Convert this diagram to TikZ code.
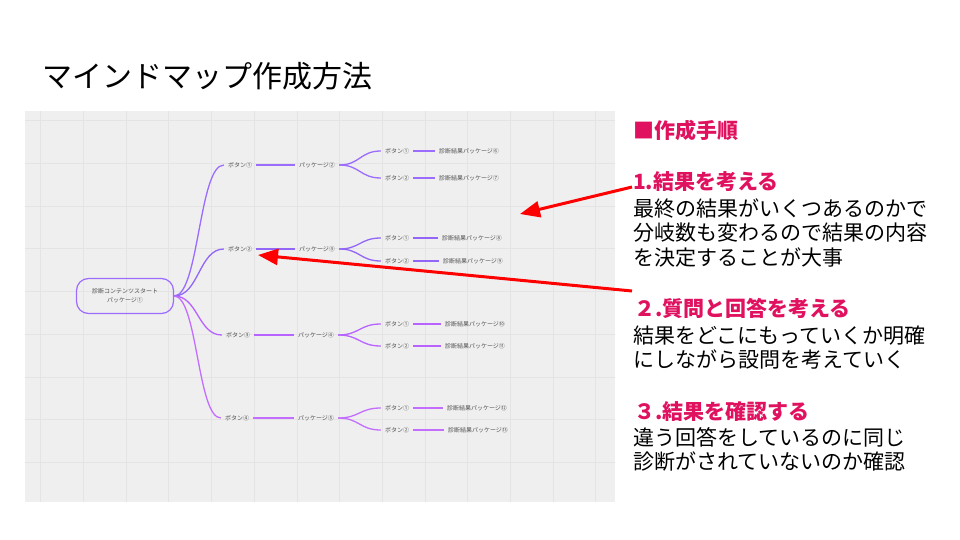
\documentclass[tikz,border=0pt]{standalone}
\usepackage{fontspec}
\setmainfont{Noto Sans CJK JP}
\usetikzlibrary{arrows.meta,calc}
\definecolor{bgg}{HTML}{EFEFEF}
\definecolor{gridg}{HTML}{E4E4E4}
\definecolor{txtg}{HTML}{505050}
\definecolor{cA}{HTML}{9C6CFF}
\definecolor{cB}{HTML}{9266F6}
\definecolor{cC}{HTML}{B862FF}
\definecolor{cD}{HTML}{C46EFF}
\definecolor{pinkh}{HTML}{E0115F}
\definecolor{redar}{HTML}{FF0000}
\tikzset{
  mm/.style={font=\fontsize{6}{7}\selectfont, text=txtg, inner xsep=4pt, inner ysep=1pt},
  rootbox/.style={draw=cA, line width=1.2pt, rounded corners=12pt, minimum width=97pt, minimum height=35pt, align=center, font=\fontsize{6}{9}\selectfont, text=txtg},
  br/.style={line width=1.3pt},
  head/.style={anchor=west, font=\fontsize{21}{24}\selectfont\bfseries, text=pinkh, inner sep=0pt},
  body/.style={anchor=west, align=left, font=\fontsize{21}{24.8}\selectfont, text=black, inner sep=0pt},
  redarrow/.style={draw=redar, line width=3pt, -{Triangle[length=20pt,width=16pt]}}
}
\newcommand{\scurve}[3]{\draw[br,#1] let \p1=(#2), \p2=(#3) in (\p1) .. controls ({(\x1+\x2)/2},\y1) and ({(\x1+\x2)/2},\y2) .. (\p2);}
\begin{document}
\begin{tikzpicture}[x=1pt,y=-1pt]
\useasboundingbox (0,0) rectangle (960,540);
\fill[white] (0,0) rectangle (960,540);
% title
\node[anchor=west, font=\fontsize{30}{34}\selectfont, inner sep=0pt] (title) at (42,76) {マインドマップ作成方法};
% canvas
\fill[bgg] (25,111) rectangle (615,502);
\foreach \i in {0,...,13} {\draw[gridg, line width=0.8pt] ({40.7+42.7*\i},111) -- ({40.7+42.7*\i},502);}
\foreach \j in {0,...,8} {\draw[gridg, line width=0.8pt] (25,{120.7+42.7*\j}) -- (615,{120.7+42.7*\j});}
% root
\node[rootbox] (root) at (125,296) {診断コンテンツスタート\\パッケージ①};
% level 1
\node[mm] (b1) at (240,165) {ボタン①};
\node[mm] (b2) at (240,249) {ボタン②};
\node[mm] (b3) at (238,335) {ボタン③};
\node[mm] (b4) at (237,418) {ボタン④};
% packages
\node[mm] (p2) at (317,165) {パッケージ②};
\node[mm] (p3) at (317,249) {パッケージ③};
\node[mm] (p4) at (316,335) {パッケージ④};
\node[mm] (p5) at (316,418) {パッケージ⑤};
% level 3
\node[mm] (q11) at (397,151) {ボタン①};
\node[mm] (q12) at (397,178) {ボタン②};
\node[mm] (q21) at (397,238) {ボタン①};
\node[mm] (q22) at (397,261) {ボタン②};
\node[mm] (q31) at (397,324) {ボタン①};
\node[mm] (q32) at (397,346) {ボタン②};
\node[mm] (q41) at (397,408) {ボタン①};
\node[mm] (q42) at (397,430) {ボタン②};
% results
\node[mm] (r11) at (469,151) {診断結果パッケージ⑥};
\node[mm] (r12) at (469,178) {診断結果パッケージ⑦};
\node[mm] (r21) at (472,238) {診断結果パッケージ⑧};
\node[mm] (r22) at (473,261) {診断結果パッケージ⑨};
\node[mm] (r31) at (475,324) {診断結果パッケージ⑩};
\node[mm] (r32) at (475,346) {診断結果パッケージ⑪};
\node[mm] (r41) at (477,408) {診断結果パッケージ⑫};
\node[mm] (r42) at (478,430) {診断結果パッケージ⑬};
% connectors
\scurve{cA}{root.east}{b1.west}
\scurve{cB}{root.east}{b2.west}
\scurve{cC}{root.east}{b3.west}
\scurve{cD}{root.east}{b4.west}
\draw[br,cA] (b1.east) -- (p2.west);
\draw[br,cB] (b2.east) -- (p3.west);
\draw[br,cC] (b3.east) -- (p4.west);
\draw[br,cD] (b4.east) -- (p5.west);
\scurve{cA}{p2.east}{q11.west}
\scurve{cA}{p2.east}{q12.west}
\scurve{cB}{p3.east}{q21.west}
\scurve{cB}{p3.east}{q22.west}
\scurve{cC}{p4.east}{q31.west}
\scurve{cC}{p4.east}{q32.west}
\scurve{cD}{p5.east}{q41.west}
\scurve{cD}{p5.east}{q42.west}
\draw[br,cA] (q11.east) -- (r11.west);
\draw[br,cA] (q12.east) -- (r12.west);
\draw[br,cB] (q21.east) -- (r21.west);
\draw[br,cB] (q22.east) -- (r22.west);
\draw[br,cC] (q31.east) -- (r31.west);
\draw[br,cC] (q32.east) -- (r32.west);
\draw[br,cD] (q41.east) -- (r41.west);
\draw[br,cD] (q42.east) -- (r42.west);
% right text
\node[head] (h0) at (633,131) {■作成手順};
\node[head] (h1) at (633,182) {1.結果を考える};
\node[body] (t1) at (633,233) {最終の結果がいくつあるのかで\\分岐数も変わるので結果の内容\\を決定することが大事};
\node[head] (h2) at (634,308) {２.質問と回答を考える};
\node[body] (t2) at (633,347.5) {結果をどこにもっていくか明確\\にしながら設問を考えていく};
\node[head] (h3) at (634,412) {３.結果を確認する};
\node[body] (t3) at (633,449.5) {違う回答をしているのに同じ\\診断がされていないのか確認};
% arrows
\coordinate (a1s) at (632,187);
\coordinate (a1e) at (520,214);
\coordinate (a2s) at (632,291);
\coordinate (a2e) at (258,255);
\draw[redarrow] (a1s) -- (a1e);
\draw[redarrow] (a2s) -- (a2e);
\end{tikzpicture}
\end{document}
